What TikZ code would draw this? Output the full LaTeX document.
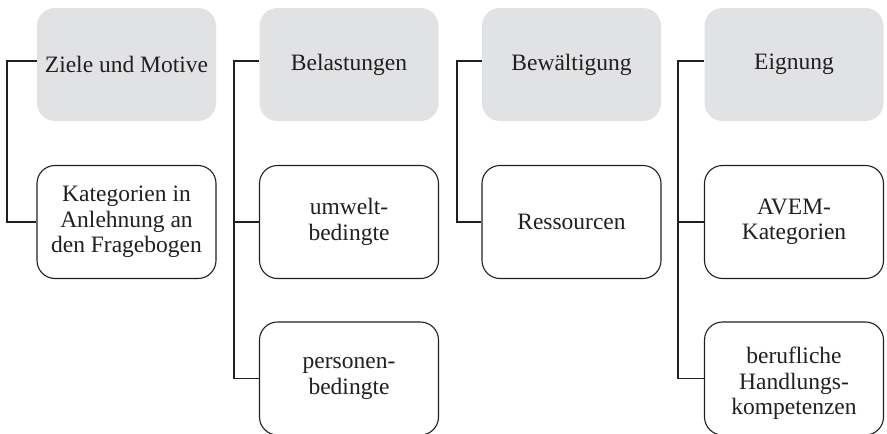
\documentclass[tikz,border=0pt]{standalone}
\usepackage{fontspec}
\setmainfont{Liberation Serif}
\definecolor{ink}{HTML}{231F20}
\definecolor{headgray}{HTML}{E1E2E4}
\begin{document}
\begin{tikzpicture}[x=1pt,y=-1pt,
  box/.style={rounded corners=18pt, minimum width=179pt, minimum height=113pt,
    inner sep=0pt, align=center, font=\fontsize{23.5}{25.5}\selectfont, text=ink},
  head/.style={box, fill=headgray},
  sub/.style={box, draw=ink, line width=1.1pt},
  link/.style={draw=ink, line width=1.1pt}]
\useasboundingbox (0,0) rectangle (887,434);
\clip (0,0) rectangle (887,434);
\fill[white] (0,0) rectangle (887,434);
% headers
\node[head] (h1) at (126.5,64.5) {Ziele und Motive};
\node[head] (h2) at (349,64.5) {Belastungen};
\node[head] (h3) at (571.5,64.5) {Bewältigung};
\node[head] (h4) at (794,64.5) {Eignung};
% children
\node[sub] (c1) at (126.5,222) {Kategorien in\\Anlehnung an\\den Fragebogen};
\node[sub] (c2a) at (349,222) {umwelt-\\bedingte};
\node[sub] (c2b) at (349,378.5) {personen-\\bedingte};
\node[sub] (c3) at (571.5,222) {Ressourcen};
\node[sub] (c4a) at (794,222) {AVEM-\\Kategorien};
\node[sub] (c4b) at (794,378.5) {\rule{0pt}{26pt}berufliche\\Handlungs-\\kompetenzen};
% spine coordinates
\coordinate (v1) at (7,0);
\coordinate (v2) at (234,0);
\coordinate (v3) at (457,0);
\coordinate (v4) at (678,0);
\coordinate (h1w) at ([yshift=3.5pt]h1.west);
\coordinate (h2w) at ([yshift=3.5pt]h2.west);
\coordinate (h3w) at ([yshift=3.5pt]h3.west);
\coordinate (h4w) at ([yshift=3.5pt]h4.west);
% connectors
\draw[link] (h1w) -| (v1 |- c1.west) -- (c1.west);
\draw[link] (h2w) -| (v2 |- c2b.west) -- (c2b.west);
\draw[link] (v2 |- c2a.west) -- (c2a.west);
\draw[link] (h3w) -| (v3 |- c3.west) -- (c3.west);
\draw[link] (h4w) -| (v4 |- c4b.west) -- (c4b.west);
\draw[link] (v4 |- c4a.west) -- (c4a.west);
\end{tikzpicture}
\end{document}
